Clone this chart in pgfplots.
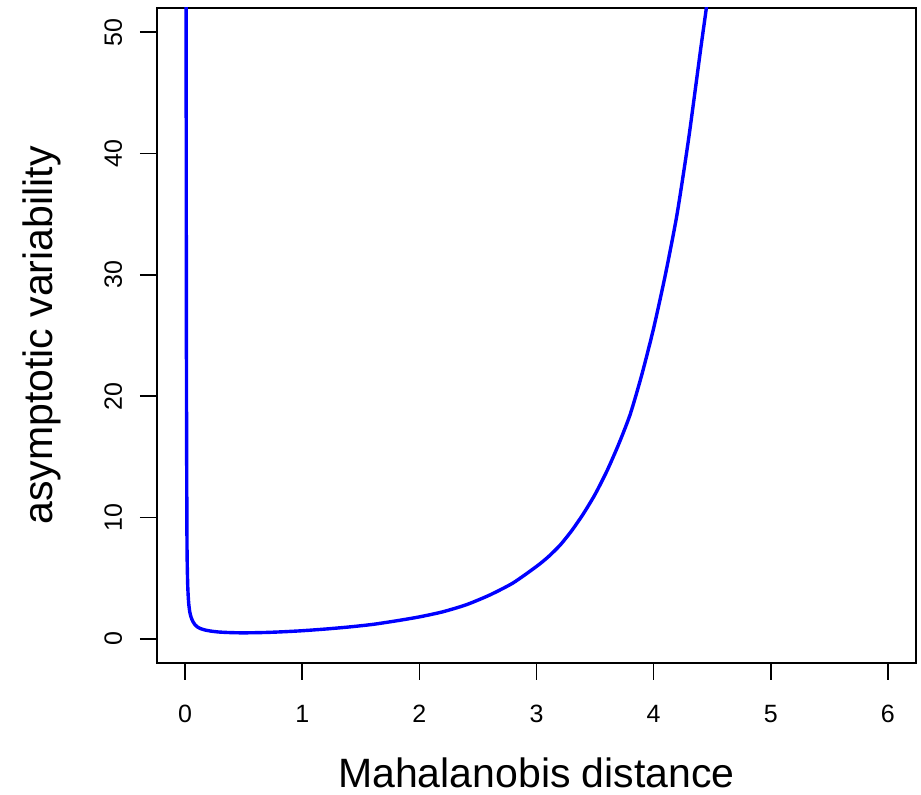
\documentclass[border=0pt]{standalone}
\usepackage{fontspec}
\setmainfont{Liberation Sans}
\usepackage{pgfplots}
\pgfplotsset{compat=1.18}

% asymptotic variability against Mahalanobis distance
\pgfplotstableread{
d      v
0.008  60.0
0.010  35.0
0.012  20.0
0.016  8.0
0.022  4.5
0.030  3.0
0.040  2.2
0.052  1.75
0.066  1.43
0.085  1.15
0.105  0.97
0.130  0.84
0.170  0.72
0.220  0.63
0.280  0.56
0.350  0.52
0.450  0.49
0.550  0.49
0.700  0.52
0.850  0.58
1.000  0.66
1.200  0.80
1.400  0.97
1.600  1.18
1.800  1.47
2.000  1.80
2.200  2.22
2.400  2.80
2.600  3.60
2.800  4.60
3.000  5.96
3.100  6.75
3.200  7.70
3.300  8.90
3.400  10.3
3.500  11.9
3.600  13.8
3.700  16.0
3.800  18.5
3.900  21.8
4.000  25.6
4.100  30.0
4.200  35.0
4.300  41.3
4.400  48.5
4.450  52.0
4.480  54.5
}\avdata

\begin{document}
\begin{tikzpicture}
\useasboundingbox (-78.5pt,-66pt) rectangle (382pt,331.5pt);
\begin{axis}[
  at={(0,0)}, anchor=south west,
  scale only axis,
  width=379.5pt, height=327.5pt,
  xmin=-0.24, xmax=6.24,
  ymin=-2, ymax=52,
  xtick={0,1,2,3,4,5,6},
  ytick={0,10,20,30,40,50},
  xtick pos=left, ytick pos=left,
  tick align=outside,
  major tick length=8.5pt,
  every tick/.style={black, line width=0.8pt},
  axis line style={line width=0.8pt},
  /pgf/number format/assume math mode=true,
  tick label style={font=\fontsize{12.5}{14}\selectfont},
  xticklabel style={anchor=north, inner sep=0pt, yshift=-12.5pt},
  % rotated labels: local y points to the left
  yticklabel style={rotate=90, anchor=base, inner sep=0pt, yshift=9pt},
  xlabel={Mahalanobis distance},
  ylabel={asymptotic variability},
  label style={font=\fontsize{20.5}{24}\selectfont},
  xlabel style={at={(axis description cs:0.5,0)}, anchor=base, inner sep=0pt, yshift=-62.5pt},
  ylabel style={at={(axis description cs:0,0.5)}, anchor=base, inner sep=0pt, rotate=0, yshift=52pt},
  clip=true,
]
\addplot[color={rgb,1:red,0;green,0;blue,1}, line width=1.7pt, line join=round,
  smooth, tension=0.4] table[x=d, y=v] {\avdata};
\end{axis}
\end{tikzpicture}
\end{document}
